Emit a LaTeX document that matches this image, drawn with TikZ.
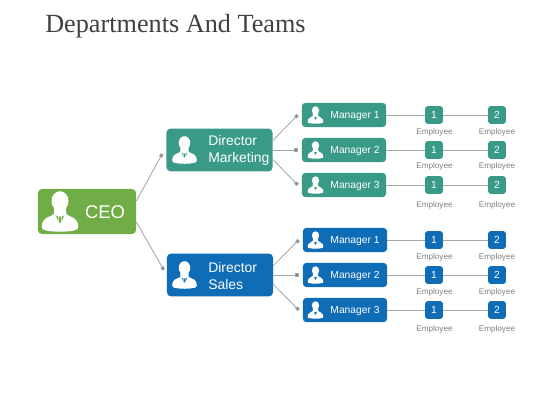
\documentclass[tikz,border=0pt]{standalone}
\usepackage{fontspec}
\setmainfont{Liberation Sans}
\newfontfamily\titlefont{Liberation Serif}
\usetikzlibrary{arrows.meta}
\definecolor{ceogreen}{HTML}{70AD47}
\definecolor{mteal}{HTML}{3A9A88}
\definecolor{sblue}{HTML}{0F6CB6}
\definecolor{linegrey}{HTML}{A6A6A6}
\definecolor{emptext}{HTML}{7F7F7F}
\definecolor{titletext}{HTML}{404040}
\tikzset{
    box/.style={inner sep=0pt, rounded corners=0.1cm},
    ceobox/.style={box, fill=ceogreen, minimum width=2.45cm, minimum height=1.125cm},
    dirbox/.style={box, minimum width=2.65cm, minimum height=1.07cm},
    mgrbox/.style={box, rounded corners=0.08cm, minimum width=2.1cm, minimum height=0.6cm},
    empbox/.style={box, rounded corners=0.06cm, minimum size=0.44cm, text=white, font=\fontsize{7.3}{8}\selectfont},
    boxtext/.style={text=white, inner sep=0pt},
    emplabel/.style={text=emptext, inner sep=0pt, font=\fontsize{5.8}{7}\selectfont},
    conn/.style={draw=linegrey, line width=0.6pt, -{Square[length=2.4pt, width=2.4pt, fill=gray]}},
    rung/.style={draw=linegrey, line width=0.7pt},
    pics/person/.style={code={
        \fill[white] (0,-10.5) ellipse [x radius=8.5, y radius=9.8];
        \fill[white] (-6,-4) -- (-6,2) .. controls (-7,5) and (-15,5) .. (-17,10)
            .. controls (-18.5,13) and (-18.5,17) .. (-17,18)
            .. controls (-10,21) and (10,21) .. (17,18)
            .. controls (18.5,17) and (18.5,13) .. (17,10)
            .. controls (15,5) and (7,5) .. (6,2) -- (6,-4) -- cycle;
        \fill[#1] (-1.4,5) -- (1.4,5) -- (1,11) -- (-1,11) -- cycle;
        \fill[#1] (-4,4) -- (-2.2,5) -- (-1.8,10) -- cycle;
        \fill[#1] (4,4) -- (2.2,5) -- (1.8,10) -- cycle;
    }}
}
\begin{document}
\begin{tikzpicture}[x=0.025cm, y=-0.025cm]
    \useasboundingbox (0,0) rectangle (560,420);

    % Title
    \node[anchor=west, inner sep=0pt, text=titletext, font=\titlefont\fontsize{18.65}{22}\selectfont] (title) at (45,26) {Departments And Teams};

    % CEO
    \node[ceobox] (ceo) at (87,211.5) {};
    \pic at (60,211.5) {person=ceogreen};
    \node[boxtext, font=\fontsize{13.1}{15}\selectfont] (ceotext) at (105,212.5) {CEO};

    % Directors
    \node[dirbox, fill=mteal] (dm) at (219.5,150) {};
    \pic[scale=0.68] at (184.5,150) {person=mteal};
    \node[boxtext, anchor=west, align=left, font=\fontsize{9.9}{12}\selectfont] (dmtext) at (208,150.5) {Director\\Marketing};

    \node[dirbox, fill=sblue] (ds) at (220,275) {};
    \pic[scale=0.68] at (184.5,275) {person=sblue};
    \node[boxtext, anchor=west, align=left, font=\fontsize{9.9}{12}\selectfont] (dstext) at (208,276) {Director\\Sales};

    % CEO to directors
    \draw[conn] (ceo.12) -- ([shift={(-0.1cm,-0.1cm)}]dm.west);
    \draw[conn] (ceo.-12) -- ([shift={(-0.075cm,0.13cm)}]ds.west);

    % Managers and their employees
    \foreach \nm/\dir/\ang/\col/\xm/\y/\ly/\i in {
        ma/dm/10/mteal/344/115/131/1, mb/dm/0/mteal/344/150/165/2, mc/dm/-10/mteal/344/185/204/3,
        sa/ds/10/sblue/345/240/256/1, sb/ds/0/sblue/345/275/291/2, sc/ds/-10/sblue/345/310/328/3} {
        \node[mgrbox, fill=\col] (\nm) at (\xm,\y) {};
        \pic[scale=0.43] at (315.5,\y) {person=\col};
        \node[boxtext, font=\fontsize{7.3}{9}\selectfont] (\nm text) at (355,\y+1) {Manager \i};
        \node[empbox, fill=\col] (\nm one) at (434,\y) {1};
        \node[empbox, fill=\col] (\nm two) at (497,\y) {2};
        \node[emplabel] (\nm onelabel) at (434.5,\ly+1) {Employee};
        \node[emplabel] (\nm twolabel) at (497,\ly+1) {Employee};
        \draw[rung] (\nm.east) -- (\nm one.west);
        \draw[rung] (\nm one.east) -- (\nm two.west);
        \draw[conn] (\dir.\ang) -- ([xshift=-0.1cm]\nm.west);
    }
\end{tikzpicture}
\end{document}
